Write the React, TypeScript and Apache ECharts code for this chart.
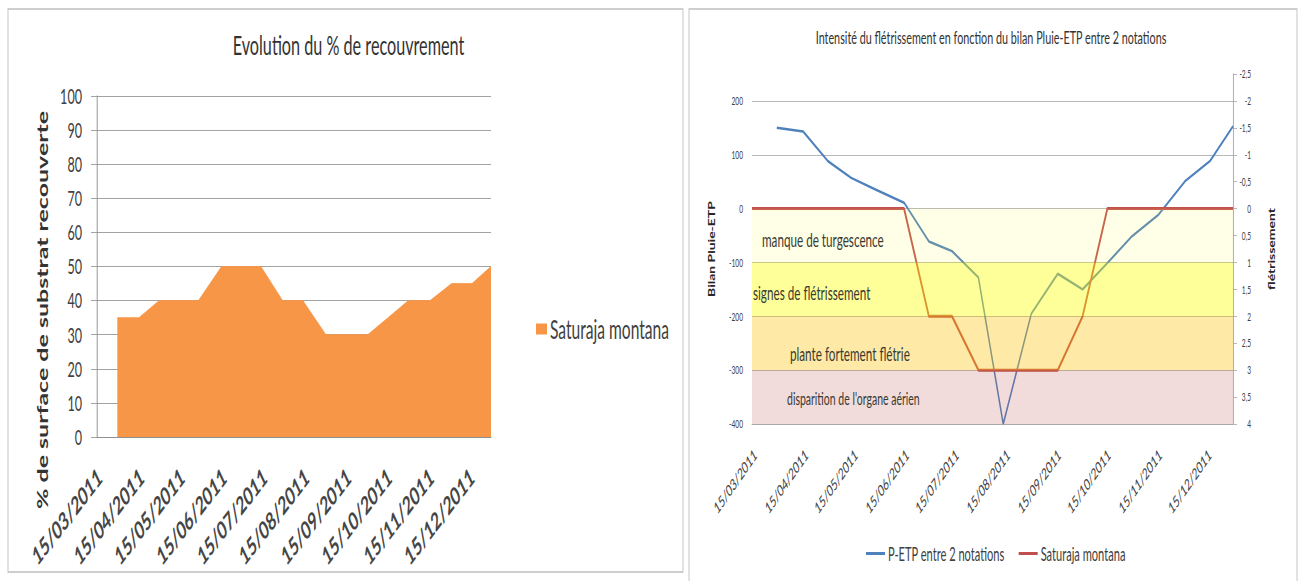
import React, { useEffect, useRef } from 'react';
import * as echarts from 'echarts';

// ---------------- data ----------------
const notationDates = [
  '2011-03-13', '2011-03-28', '2011-04-13', '2011-04-28', '2011-05-12', '2011-05-27',
  '2011-06-13', '2011-06-28', '2011-07-12', '2011-07-28', '2011-08-12', '2011-08-29',
  '2011-09-14', '2011-09-29', '2011-10-14', '2011-10-29', '2011-11-14', '2011-11-30',
  '2011-12-15', '2011-12-29',
];
// % de surface de substrat recouverte (Saturaja montana)
const recouvrementSaturaja = [null, 35, 35, 40, 40, 40, 50, 50, 50, 40, 40, 30, 30, 30, 35, 40, 40, 45, 45, 50];
// Bilan Pluie-ETP entre 2 notations
const bilanPluieEtp = [null, 150, 143, 88, 57, 35, 11, -61, -79, -128, -400, -195, -121, -150, -101, -51, -11, 51, 88, 153];
// Intensité du flétrissement (Saturaja montana)
const fletrissementSaturaja = [0, 0, 0, 0, 0, 0, 0, 2, 2, 3, 3, 3, 3, 2, 0, 0, 0, 0, 0, 0];
const monthTickDates = [
  '2011-03-15', '2011-04-15', '2011-05-15', '2011-06-15', '2011-07-15',
  '2011-08-15', '2011-09-15', '2011-10-15', '2011-11-15', '2011-12-15',
];
const dateAxisStart = '2011-03-13';
const dateAxisEnd = '2011-12-29';
const bandBounds = [0, -100, -200, -300, -400];
const bandNames = [
  'manque de turgescence',
  'signes de flétrissement',
  'plante fortement flétrie',
  "disparition de l'organe aérien",
];

// ---------------- layout / style ----------------
const K = 0.6; // horizontal squeeze of the reference picture
const CW = Math.round(1300 / K);
const S = 1300 / CW;
const u = (px: number) => px / S;
const H = 581;
const FONT = 'Lato, "Noto Sans", sans-serif';
const bandColors = [
  'rgba(255,250,60,0.13)',
  'rgba(255,255,0,0.40)',
  'rgba(255,192,0,0.35)',
  'rgba(192,80,77,0.20)',
];
const bandLabelPos = [
  [u(10), 31],
  [u(1), 30],
  [u(38), 37],
  [u(35), 28],
];
const bandLabelSize = [19.5, 19.5, 19.5, 17.5];

const ts = (s: string) => {
  const [y, m, d] = s.split('-').map(Number);
  return new Date(y, m - 1, d).getTime();
};
const pad = (n: number) => (n < 10 ? '0' + n : '' + n);
const fmtDate = (v: number) => {
  const d = new Date(v);
  return pad(d.getDate()) + '/' + pad(d.getMonth() + 1) + '/' + d.getFullYear();
};
const pairs = (vals: (number | null)[]) =>
  notationDates
    .map((d, i) => [ts(d), vals[i]] as [number, number | null])
    .filter((p) => p[1] !== null);

const RED_NAME = 'Saturaja montana (flétrissement)';

function dateAxis(gridIndex: number, label: any, lineColor: string): any {
  return {
    type: 'value',
    gridIndex,
    min: ts(dateAxisStart),
    max: ts(dateAxisEnd),
    scale: true,
    axisLine: { show: true, onZero: false, lineStyle: { color: lineColor, width: 1 } },
    axisTick: { show: false },
    splitLine: { show: false },
    axisLabel: {
      customValues: monthTickDates.map(ts),
      formatter: (v: number) => fmtDate(v),
      hideOverlap: false,
      ...label,
    },
  };
}

function buildOption(): any {
  const bands = bandNames.map((name, i) => [
    {
      name,
      yAxis: bandBounds[i],
      itemStyle: { color: bandColors[i] },
      label: {
        show: true,
        position: bandLabelPos[i],
        align: 'left',
        verticalAlign: 'middle',
        fontFamily: FONT,
        fontSize: bandLabelSize[i],
        color: '#3a3a30',
      },
    },
    { yAxis: bandBounds[i + 1] },
  ]);

  return {
    animation: false,
    backgroundColor: '#ffffff',
    textStyle: { fontFamily: FONT },
    grid: [
      { left: u(97), top: 96, width: u(394), height: 341 },
      { left: u(752), top: 74, width: u(481), height: 350 },
    ],
    xAxis: [
      dateAxis(
        0,
        { rotate: 38, margin: 36, fontFamily: FONT, fontSize: 25, fontWeight: 'bold', color: '#454545' },
        '#8c8c8c'
      ),
      dateAxis(1, { rotate: 41, margin: 28, fontFamily: FONT, fontSize: 16, color: '#404040' }, '#a6a6a6'),
    ],
    yAxis: [
      {
        type: 'value',
        gridIndex: 0,
        min: 0,
        max: 100,
        interval: 10,
        axisLine: { show: true, lineStyle: { color: '#8c8c8c', width: 1.5 } },
        axisTick: { show: true, length: u(6), lineStyle: { color: '#8c8c8c' } },
        splitLine: { show: true, lineStyle: { color: '#8c8c8c', width: 1 } },
        axisLabel: { margin: u(15), fontFamily: FONT, fontSize: 21, color: '#404040' },
      },
      {
        type: 'value',
        gridIndex: 1,
        min: -400,
        max: 250,
        interval: 100,
        axisLine: { show: false },
        axisTick: { show: false },
        splitLine: { show: true, showMaxLine: false, lineStyle: { color: '#a6a6a6', width: 1 } },
        axisLabel: {
          margin: u(9),
          fontFamily: FONT,
          fontSize: 11,
          color: '#404040',
          formatter: (v: number) => (v > 200 ? '' : String(v)),
        },
        name: 'Bilan Pluie-ETP',
        nameLocation: 'middle',
        nameGap: 60,
        nameRotate: 90,
        nameTextStyle: { fontFamily: FONT, fontSize: 14, fontWeight: 'bold', color: '#262626' },
      },
      {
        type: 'value',
        gridIndex: 1,
        position: 'right',
        inverse: true,
        min: -2.5,
        max: 4,
        interval: 0.5,
        axisLine: { show: true, lineStyle: { color: '#a6a6a6', width: 1.5 } },
        axisTick: { show: true, length: u(4), lineStyle: { color: '#a6a6a6' } },
        splitLine: { show: false },
        axisLabel: {
          align: 'right',
          margin: u(18),
          fontFamily: FONT,
          fontSize: 11,
          color: '#404040',
          formatter: (v: number) => String(Math.round(v * 10) / 10).replace('.', ','),
        },
        name: 'flétrissement',
        nameLocation: 'middle',
        nameGap: 58,
        nameRotate: 90,
        nameTextStyle: { fontFamily: FONT, fontSize: 14, fontWeight: 'bold', color: '#262626' },
      },
    ],
    legend: [
      {
        orient: 'vertical',
        left: u(533),
        top: 311,
        icon: 'rect',
        itemWidth: u(11),
        itemHeight: 11,
        data: ['Saturaja montana'],
        textStyle: { fontFamily: FONT, fontSize: 26, color: '#404040' },
      },
      {
        orient: 'horizontal',
        left: u(863),
        top: 539,
        icon: 'rect',
        itemWidth: u(19),
        itemHeight: 3,
        itemGap: u(14),
        data: ['P-ETP entre 2 notations', RED_NAME],
        formatter: (name: string) => (name === RED_NAME ? 'Saturaja montana' : name),
        textStyle: { fontFamily: FONT, fontSize: 18.5, color: '#404040' },
      },
    ],
    graphic: [
      {
        type: 'rect',
        shape: { x: u(8), y: 9, width: u(675), height: 563 },
        style: { fill: 'none', stroke: '#bfbfbf', lineWidth: 1.5 },
        silent: true,
        z: -10,
      },
      {
        type: 'rect',
        shape: { x: u(689), y: 9, width: u(608), height: 620 },
        style: { fill: 'none', stroke: '#bfbfbf', lineWidth: 1.5 },
        silent: true,
        z: -10,
      },
      {
        type: 'text',
        x: u(348.5),
        y: 45,
        style: {
          text: 'Evolution du % de recouvrement',
          font: `27px ${FONT}`,
          fill: '#333333',
          align: 'center',
          verticalAlign: 'middle',
        },
      },
      {
        type: 'text',
        x: u(42),
        y: 310,
        rotation: Math.PI / 2,
        style: {
          text: '% de surface de substrat recouverte',
          font: `bold 25px ${FONT}`,
          fill: '#333333',
          align: 'center',
          verticalAlign: 'middle',
        },
      },
      {
        type: 'text',
        x: u(991),
        y: 37,
        style: {
          text: 'Intensité du flétrissement en fonction du bilan Pluie-ETP entre 2 notations',
          font: `18px ${FONT}`,
          fill: '#333333',
          align: 'center',
          verticalAlign: 'middle',
        },
      },
    ],
    series: [
      {
        name: 'Saturaja montana',
        type: 'line',
        xAxisIndex: 0,
        yAxisIndex: 0,
        data: pairs(recouvrementSaturaja),
        symbol: 'none',
        lineStyle: { width: 1, color: '#F79646' },
        itemStyle: { color: '#F79646' },
        areaStyle: { color: '#F79646', opacity: 1 },
      },
      {
        name: 'P-ETP entre 2 notations',
        type: 'line',
        xAxisIndex: 1,
        yAxisIndex: 1,
        data: pairs(bilanPluieEtp),
        symbol: 'none',
        lineStyle: { width: 2.5, color: '#4F81BD' },
        itemStyle: { color: '#4F81BD' },
      },
      {
        name: RED_NAME,
        type: 'line',
        xAxisIndex: 1,
        yAxisIndex: 2,
        data: pairs(fletrissementSaturaja),
        symbol: 'none',
        lineStyle: { width: 3, color: '#C0504D' },
        itemStyle: { color: '#C0504D' },
      },
      {
        name: 'zones',
        type: 'line',
        xAxisIndex: 1,
        yAxisIndex: 1,
        data: pairs(bilanPluieEtp),
        symbol: 'none',
        silent: true,
        lineStyle: { opacity: 0 },
        markArea: { silent: true, z: 10, data: bands },
      },
    ],
  };
}

export default function App() {
  const ref = useRef<HTMLDivElement>(null);
  useEffect(() => {
    if (!ref.current) return;
    const chart = echarts.init(ref.current, null, { renderer: 'svg' });
    chart.setOption(buildOption());
    return () => chart.dispose();
  }, []);
  return (
    <div
      style={{
        position: 'fixed',
        left: 0,
        top: 0,
        width: 1300,
        height: H,
        overflow: 'hidden',
        background: '#ffffff',
      }}
    >
      <div
        ref={ref}
        style={{ width: CW, height: H, transform: `scaleX(${S})`, transformOrigin: '0 0' }}
      />
    </div>
  );
}
